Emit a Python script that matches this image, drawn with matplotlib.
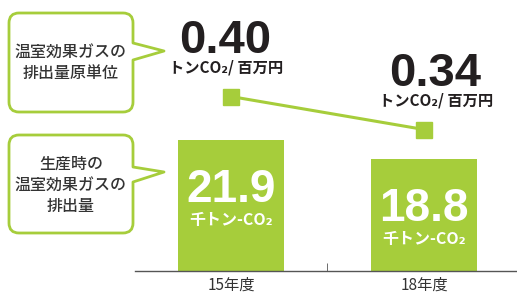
import matplotlib.pyplot as plt
from matplotlib.path import Path
from matplotlib.patches import PathPatch
from matplotlib.transforms import Affine2D

# data
years = ['15年度', '18年度']
emissions = [21.9, 18.8]          # 千トン-CO2
intensity = [0.40, 0.34]          # トンCO2/百万円
emission_unit = '千トン-CO₂'
intensity_unit = 'トンCO₂/ 百万円'
callout_top = ['温室効果ガスの', '排出量原単位']
callout_bottom = ['生産時の', '温室効果ガスの', '排出量']

green = '#a6cd3b'
dark = '#231f20'
jp = ['Noto Sans CJK JP', 'DejaVu Sans']
num = ['Liberation Sans', 'DejaVu Sans']

W, H = 517, 293
fig = plt.figure(figsize=(W / 100, H / 100), dpi=100)

ax = fig.add_axes([135 / W, 22 / H, 382 / W, 271 / H])
x = list(range(len(years)))
ax.bar(x, emissions, width=0.55, color=green, zorder=2)
ax.set_xlim(-0.497, 1.482)
ax.set_ylim(0, 45.4)
for s in ['top', 'right', 'left']:
    ax.spines[s].set_visible(False)
ax.spines['bottom'].set_color('#555555')
ax.spines['bottom'].set_linewidth(1)
ax.set_yticks([])
ax.set_xticks(x)
ax.set_xticklabels(years, family=jp, fontsize=11, color='#333333')
ax.tick_params(axis='x', length=0, pad=4)
ax.set_xticks([0.5], minor=True)
ax.tick_params(axis='x', which='minor', direction='in', length=6, color='#555555')

for i, v in enumerate(emissions):
    ax.annotate(f'{v:.1f}', (i, v), xytext=(0, -62), textcoords='offset pixels',
                ha='center', va='baseline', color='white', fontsize=33,
                fontweight='bold', family=num)
    ax.annotate(emission_unit, (i, v), xytext=(0, -80), textcoords='offset pixels',
                ha='center', va='center', color='white', fontsize=11.5,
                fontweight='bold', family=jp)

# intensity line on a second scale
ax2 = ax.twinx()
ax2.set_ylim(0.0827, 0.5755)
ax2.axis('off')
ax2.plot(x, intensity, color=green, lw=2.2, marker='s', markersize=12.2, zorder=3)
dx = [-6, 11]
for i, v in enumerate(intensity):
    ax2.annotate(f'{v:.2f}', (i, v), xytext=(dx[i], 44), textcoords='offset pixels',
                 ha='center', va='baseline', color=dark, fontsize=34,
                 fontweight='bold', family=num)
    ax2.annotate(intensity_unit, (i, v), xytext=(dx[i] + 1, 29), textcoords='offset pixels',
                 ha='center', va='center', color=dark, fontsize=11,
                 fontweight='bold', family=jp)

# callout boxes (pixel coordinates, origin top-left)
px = Affine2D().scale(1 / W, -1 / H).translate(0, 1) + fig.transFigure


def callout(x0, y0, x1, y1, p0, p1, tip, r=10):
    verts = [(x0 + r, y0), (x1 - r, y0), (x1, y0), (x1, y0 + r),
             (x1, p0), tip, (x1, p1),
             (x1, y1 - r), (x1, y1), (x1 - r, y1),
             (x0 + r, y1), (x0, y1), (x0, y1 - r),
             (x0, y0 + r), (x0, y0), (x0 + r, y0), (x0 + r, y0)]
    codes = [Path.MOVETO, Path.LINETO, Path.CURVE3, Path.CURVE3,
             Path.LINETO, Path.LINETO, Path.LINETO,
             Path.LINETO, Path.CURVE3, Path.CURVE3,
             Path.LINETO, Path.CURVE3, Path.CURVE3,
             Path.LINETO, Path.CURVE3, Path.CURVE3, Path.CLOSEPOLY]
    fig.add_artist(PathPatch(Path(verts, codes), facecolor='white', edgecolor=green,
                             lw=2, transform=px, joinstyle='round'))


callout(9, 13, 133, 112, 43, 60, (164, 51))
callout(9, 135, 133, 233, 167, 182, (164, 172))

for j, line in enumerate(callout_top):
    fig.text(71, 52 + j * 21.5, line, transform=px, ha='center', va='center',
             family=jp, fontsize=11.5, fontweight='medium', color='#333333')
for j, line in enumerate(callout_bottom):
    fig.text(71, 164 + j * 21.5, line, transform=px, ha='center', va='center',
             family=jp, fontsize=11.5, fontweight='medium', color='#333333')

fig.savefig('out.png', dpi=100)
